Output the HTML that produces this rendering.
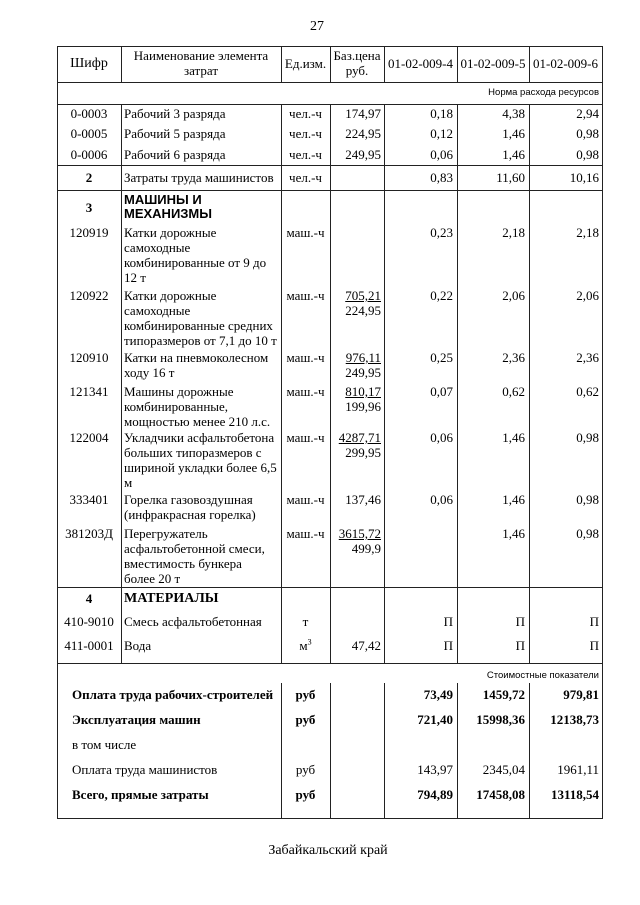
<!DOCTYPE html>
<html><head><meta charset="utf-8"><style>
body{margin:0;background:#fff;width:640px;height:905px;position:relative;overflow:hidden;font-family:"Liberation Serif","Noto Serif CJK SC",serif;font-size:13px;color:#000}
div{position:absolute;line-height:15px;white-space:nowrap}
.a{left:57px;width:64px;text-align:center}
.b{left:124px}
.c{left:281px;width:49px;text-align:center}
.d{left:330px;width:51px;text-align:right}
.e{left:384px;width:69px;text-align:right}
.f{left:457px;width:68px;text-align:right}
.g{left:529px;width:70px;text-align:right}
.v{width:1px;background:#222}
.h{height:1px;background:#222}
.s{font-family:"Liberation Sans","DejaVu Sans",sans-serif;font-size:9.5px}
.bo{font-weight:bold}
u{text-decoration:underline}
</style></head><body>
<div style="left:310px;top:19px;font-size:14px">27</div>
<!-- borders -->
<div class="h" style="left:57px;top:46px;width:546px"></div>
<div class="h" style="left:57px;top:82px;width:546px"></div>
<div class="h" style="left:57px;top:104px;width:546px"></div>
<div class="h" style="left:57px;top:165px;width:546px"></div>
<div class="h" style="left:57px;top:190px;width:546px"></div>
<div class="h" style="left:57px;top:587px;width:546px"></div>
<div class="h" style="left:57px;top:663px;width:546px"></div>
<div class="h" style="left:57px;top:818px;width:546px"></div>
<div class="v" style="left:57px;top:46px;height:772px"></div>
<div class="v" style="left:602px;top:46px;height:772px"></div>
<div class="v" style="left:121px;top:46px;height:36px"></div>
<div class="v" style="left:121px;top:104px;height:559px"></div>
<div class="v" style="left:281px;top:46px;height:36px"></div>
<div class="v" style="left:281px;top:104px;height:559px"></div>
<div class="v" style="left:330px;top:46px;height:36px"></div>
<div class="v" style="left:330px;top:104px;height:559px"></div>
<div class="v" style="left:384px;top:46px;height:36px"></div>
<div class="v" style="left:384px;top:104px;height:559px"></div>
<div class="v" style="left:457px;top:46px;height:36px"></div>
<div class="v" style="left:457px;top:104px;height:559px"></div>
<div class="v" style="left:529px;top:46px;height:36px"></div>
<div class="v" style="left:529px;top:104px;height:559px"></div>
<div class="v" style="left:281px;top:683px;height:135px"></div>
<div class="v" style="left:330px;top:683px;height:135px"></div>
<div class="v" style="left:384px;top:683px;height:135px"></div>
<div class="v" style="left:457px;top:683px;height:135px"></div>
<div class="v" style="left:529px;top:683px;height:135px"></div>
<!-- header -->
<div class="a" style="top:56px;font-size:14px">Шифр</div>
<div style="left:121px;width:160px;text-align:center;top:48px">Наименование элемента<br>затрат</div>
<div class="c" style="top:56px">Ед.изм.</div>
<div style="left:330px;width:54px;text-align:center;top:48px">Баз.цена<br>руб.</div>
<div style="left:384px;width:73px;text-align:center;top:56px">01-02-009-4</div>
<div style="left:457px;width:72px;text-align:center;top:56px">01-02-009-5</div>
<div style="left:529px;width:73px;text-align:center;top:56px">01-02-009-6</div>
<div class="s" style="right:41px;top:85px">Норма расхода ресурсов</div>
<!-- rows -->
<div class="a" style="top:106px">0-0003</div><div class="b" style="top:106px">Рабочий 3 разряда</div><div class="c" style="top:106px">чел.-ч</div><div class="d" style="top:106px">174,97</div><div class="e" style="top:106px">0,18</div><div class="f" style="top:106px">4,38</div><div class="g" style="top:106px">2,94</div>
<div class="a" style="top:126px">0-0005</div><div class="b" style="top:126px">Рабочий 5 разряда</div><div class="c" style="top:126px">чел.-ч</div><div class="d" style="top:126px">224,95</div><div class="e" style="top:126px">0,12</div><div class="f" style="top:126px">1,46</div><div class="g" style="top:126px">0,98</div>
<div class="a" style="top:147px">0-0006</div><div class="b" style="top:147px">Рабочий 6 разряда</div><div class="c" style="top:147px">чел.-ч</div><div class="d" style="top:147px">249,95</div><div class="e" style="top:147px">0,06</div><div class="f" style="top:147px">1,46</div><div class="g" style="top:147px">0,98</div>
<div class="a bo" style="top:170px">2</div><div class="b" style="top:170px">Затраты труда машинистов</div><div class="c" style="top:170px">чел.-ч</div><div class="e" style="top:170px">0,83</div><div class="f" style="top:170px">11,60</div><div class="g" style="top:170px">10,16</div>
<div class="a bo" style="top:200px">3</div><div class="b bo" style="top:193px;font-family:'Liberation Sans',sans-serif;line-height:14px">МАШИНЫ И<br>МЕХАНИЗМЫ</div>
<div class="a" style="top:225px">120919</div><div class="b" style="top:225px">Катки дорожные<br>самоходные<br>комбинированные от 9 до<br>12 т</div><div class="c" style="top:225px">маш.-ч</div><div class="e" style="top:225px">0,23</div><div class="f" style="top:225px">2,18</div><div class="g" style="top:225px">2,18</div>
<div class="a" style="top:288px">120922</div><div class="b" style="top:288px">Катки дорожные<br>самоходные<br>комбинированные средних<br>типоразмеров от 7,1 до 10 т</div><div class="c" style="top:288px">маш.-ч</div><div class="d" style="top:288px"><u>705,21</u><br>224,95</div><div class="e" style="top:288px">0,22</div><div class="f" style="top:288px">2,06</div><div class="g" style="top:288px">2,06</div>
<div class="a" style="top:350px">120910</div><div class="b" style="top:350px">Катки на пневмоколесном<br>ходу 16 т</div><div class="c" style="top:350px">маш.-ч</div><div class="d" style="top:350px"><u>976,11</u><br>249,95</div><div class="e" style="top:350px">0,25</div><div class="f" style="top:350px">2,36</div><div class="g" style="top:350px">2,36</div>
<div class="a" style="top:384px">121341</div><div class="b" style="top:384px">Машины дорожные<br>комбинированные,<br>мощностью менее 210 л.с.</div><div class="c" style="top:384px">маш.-ч</div><div class="d" style="top:384px"><u>810,17</u><br>199,96</div><div class="e" style="top:384px">0,07</div><div class="f" style="top:384px">0,62</div><div class="g" style="top:384px">0,62</div>
<div class="a" style="top:430px">122004</div><div class="b" style="top:430px">Укладчики асфальтобетона<br>больших типоразмеров с<br>шириной укладки более 6,5<br>м</div><div class="c" style="top:430px">маш.-ч</div><div class="d" style="top:430px"><u>4287,71</u><br>299,95</div><div class="e" style="top:430px">0,06</div><div class="f" style="top:430px">1,46</div><div class="g" style="top:430px">0,98</div>
<div class="a" style="top:492px">333401</div><div class="b" style="top:492px">Горелка газовоздушная<br>(инфракрасная горелка)</div><div class="c" style="top:492px">маш.-ч</div><div class="d" style="top:492px">137,46</div><div class="e" style="top:492px">0,06</div><div class="f" style="top:492px">1,46</div><div class="g" style="top:492px">0,98</div>
<div class="a" style="top:526px">381203Д</div><div class="b" style="top:526px">Перегружатель<br>асфальтобетонной смеси,<br>вместимость бункера<br>более 20 т</div><div class="c" style="top:526px">маш.-ч</div><div class="d" style="top:526px"><u>3615,72</u><br>499,9</div><div class="f" style="top:526px">1,46</div><div class="g" style="top:526px">0,98</div>
<div class="a bo" style="top:591px">4</div><div class="b bo" style="top:591px;font-size:14px">МАТЕРИАЛЫ</div>
<div class="a" style="top:614px">410-9010</div><div class="b" style="top:614px">Смесь асфальтобетонная</div><div class="c" style="top:614px">т</div><div class="e" style="top:614px">П</div><div class="f" style="top:614px">П</div><div class="g" style="top:614px">П</div>
<div class="a" style="top:638px">411-0001</div><div class="b" style="top:638px">Вода</div><div class="c" style="top:638px">м<sup style="font-size:8px;line-height:0">3</sup></div><div class="d" style="top:638px">47,42</div><div class="e" style="top:638px">П</div><div class="f" style="top:638px">П</div><div class="g" style="top:638px">П</div>
<div class="s" style="right:41px;top:668px">Стоимостные показатели</div>
<div class="bo" style="left:72px;top:687px">Оплата труда рабочих-строителей</div><div class="c bo" style="top:687px">руб</div><div class="e bo" style="top:687px">73,49</div><div class="f bo" style="top:687px">1459,72</div><div class="g bo" style="top:687px">979,81</div>
<div class="bo" style="left:72px;top:712px">Эксплуатация машин</div><div class="c bo" style="top:712px">руб</div><div class="e bo" style="top:712px">721,40</div><div class="f bo" style="top:712px">15998,36</div><div class="g bo" style="top:712px">12138,73</div>
<div style="left:72px;top:737px">в том числе</div>
<div style="left:72px;top:762px">Оплата труда машинистов</div><div class="c" style="top:762px">руб</div><div class="e" style="top:762px">143,97</div><div class="f" style="top:762px">2345,04</div><div class="g" style="top:762px">1961,11</div>
<div class="bo" style="left:72px;top:787px">Всего, прямые затраты</div><div class="c bo" style="top:787px">руб</div><div class="e bo" style="top:787px">794,89</div><div class="f bo" style="top:787px">17458,08</div><div class="g bo" style="top:787px">13118,54</div>
<div style="left:0;width:656px;text-align:center;top:843px;font-size:14px">Забайкальский край</div>
</body></html>
